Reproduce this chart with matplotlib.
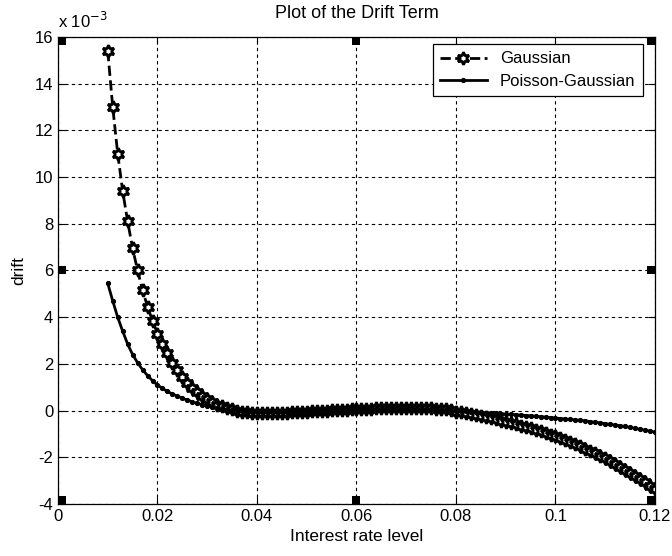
import numpy as np
import matplotlib.pyplot as plt
from matplotlib.path import Path

# interest rate grid (0.010 .. 0.120, step 0.001)
rate = np.arange(10, 121) / 1000.0

# drift values in units of 1e-3
drift_gauss = [
    15.4, 13.0, 11.0, 9.4, 8.1, 6.95, 6.0, 5.15, 4.45, 3.85,
    3.3, 2.85, 2.45, 2.05, 1.75, 1.45, 1.2, 0.98, 0.78, 0.62,
    0.48, 0.36, 0.26, 0.18, 0.11, 0.05, 0.0, -0.04, -0.07, -0.09,
    -0.10, -0.11, -0.11, -0.11, -0.10, -0.10, -0.09, -0.08, -0.07, -0.06,
    -0.05, -0.03, -0.02, -0.01, 0.0, 0.01, 0.02, 0.03, 0.04, 0.05,
    0.06, 0.07, 0.08, 0.09, 0.10, 0.11, 0.12, 0.12, 0.13, 0.13,
    0.13, 0.13, 0.12, 0.12, 0.11, 0.10, 0.09, 0.07, 0.05, 0.02,
    -0.05, -0.08, -0.11, -0.15, -0.19, -0.23, -0.27, -0.32, -0.37, -0.43,
    -0.49, -0.54, -0.59, -0.65, -0.70, -0.76, -0.82, -0.89, -0.96, -1.03,
    -1.10, -1.18, -1.26, -1.35, -1.44, -1.53, -1.63, -1.73, -1.83, -1.94,
    -2.05, -2.17, -2.29, -2.41, -2.54, -2.67, -2.80, -2.93, -3.07, -3.21,
    -3.35,
]

drift_pg = [
    5.45, 4.7, 4.0, 3.4, 2.85, 2.4, 2.05, 1.75, 1.5, 1.28,
    1.1, 0.95, 0.82, 0.71, 0.62, 0.53, 0.45, 0.38, 0.31, 0.25,
    0.20, 0.15, 0.11, 0.07, 0.04, 0.01, -0.01, -0.03, -0.05, -0.06,
    -0.07, -0.08, -0.08, -0.08, -0.08, -0.08, -0.07, -0.07, -0.06, -0.05,
    -0.04, -0.03, -0.02, -0.01, 0.0, 0.01, 0.02, 0.03, 0.04, 0.05,
    0.05, 0.06, 0.07, 0.07, 0.08, 0.08, 0.09, 0.09, 0.09, 0.09,
    0.09, 0.09, 0.08, 0.08, 0.07, 0.06, 0.05, 0.04, 0.03, 0.02,
    0.00, -0.01, -0.03, -0.04, -0.06, -0.07, -0.09, -0.10, -0.12, -0.13,
    -0.15, -0.16, -0.18, -0.19, -0.21, -0.22, -0.24, -0.26, -0.28, -0.30,
    -0.32, -0.34, -0.36, -0.38, -0.40, -0.42, -0.44, -0.47, -0.50, -0.53,
    -0.56, -0.59, -0.62, -0.65, -0.68, -0.72, -0.76, -0.80, -0.84, -0.88,
    -0.92,
]

x_ticks = [0, 0.02, 0.04, 0.06, 0.08, 0.1, 0.12]
x_tick_labels = ['0', '0.02', '0.04', '0.06', '0.08', '0.1', '0.12']
y_ticks = [-4, -2, 0, 2, 4, 6, 8, 10, 12, 14, 16]

# stray square marks at grid points on the frame
corner_x = [0, 0.06, 0.12, 0, 0.12, 0, 0.06, 0.12]
corner_y = [16, 16, 16, 6, 6, -4, -4, -4]

plt.rcParams['font.family'] = ['Liberation Sans', 'DejaVu Sans']
plt.rcParams['axes.unicode_minus'] = False

fig = plt.figure(figsize=(6.72, 5.56), dpi=100)
ax = fig.add_axes([0.0863, 0.0935, 0.8884, 0.84])
ax.set_xlim(0, 0.12)
ax.set_ylim(-4, 16)

hexagram = (6, 1, 0)
ax.plot(rate, drift_gauss, color='black', linestyle='--', linewidth=2.0,
        marker=hexagram, markersize=9, markerfacecolor='white',
        markeredgecolor='black', markeredgewidth=2.0, label='Gaussian')
ax.plot(rate, drift_pg, color='black', linestyle='-', linewidth=2.0,
        marker='.', markersize=5.5, label='Poisson-Gaussian')


def inward_square(xv, yv):
    # square sitting on the inner side of the frame at this point
    x0, x1 = ax.get_xlim()
    y0, y1 = ax.get_ylim()
    dx = 1 if xv == x0 else (-1 if xv == x1 else 0)
    dy = 1 if yv == y0 else (-1 if yv == y1 else 0)
    xa, xb = (dx - 1) / 2, (dx + 1) / 2
    ya, yb = (dy - 1) / 2, (dy + 1) / 2
    verts = [(xa, ya), (xb, ya), (xb, yb), (xa, yb), (xa, ya)]
    return Path(verts, closed=True)


for cx, cy in zip(corner_x, corner_y):
    ax.plot([cx], [cy], linestyle='none', marker=inward_square(cx, cy),
            markersize=12, color='black', markeredgewidth=0, clip_on=False)

ax.set_xticks(x_ticks)
ax.set_xticklabels(x_tick_labels)
ax.set_yticks(y_ticks)

ax.grid(True, color='black', linestyle=(0, (3, 3)), linewidth=0.8)
ax.tick_params(direction='in', top=True, right=True, labelsize=12,
               length=5, width=0.8)
for sp in ax.spines.values():
    sp.set_linewidth(0.9)

ax.set_title('Plot of the Drift Term', fontsize=13, pad=14)
ax.set_xlabel('Interest rate level', fontsize=12.5, labelpad=4)
ax.set_ylabel('drift', fontsize=12.5, labelpad=6)
ax.text(0.0, 1.012, 'x 10$^{-3}$', transform=ax.transAxes, fontsize=12,
        ha='left', va='bottom')

leg = ax.legend(loc='upper right', bbox_to_anchor=(0.98, 0.985),
                fontsize=12, frameon=True, fancybox=False, framealpha=1,
                edgecolor='black', borderpad=0.45, handlelength=2.8,
                labelspacing=0.45, borderaxespad=0)
leg.get_frame().set_linewidth(0.9)

fig.savefig('out.png', dpi=100)
plt.close(fig)
